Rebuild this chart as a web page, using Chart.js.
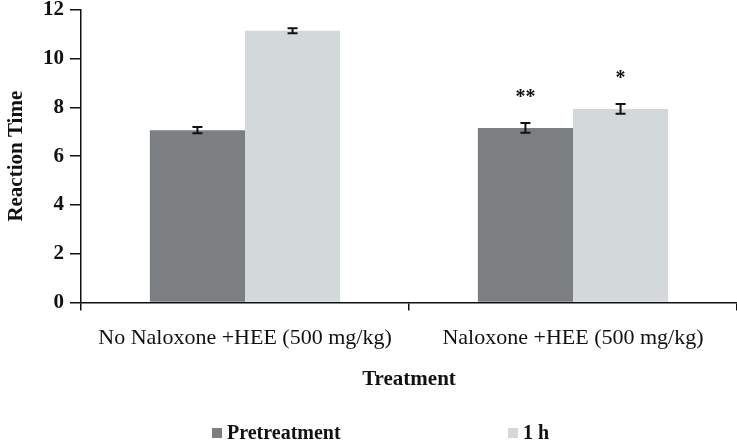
<!DOCTYPE html>
<html>
<head>
<meta charset="utf-8">
<script src="https://cdn.jsdelivr.net/npm/chart.js@4"></script>
<style>
  html, body { margin: 0; padding: 0; background: #fff; }
  #wrap { width: 737px; height: 446px; }
</style>
</head>
<body>
<div id="wrap"><canvas id="chart"></canvas></div>
<script>
const categories = ['No Naloxone +HEE (500 mg/kg)', 'Naloxone +HEE (500 mg/kg)'];
const seriesNames = ['Pretreatment', '1 h'];
const pretreatment = [7.07, 7.16];
const oneHour = [11.15, 7.94];
const pretreatmentErr = [0.13, 0.2];
const oneHourErr = [0.1, 0.2];
const pretreatmentMarks = ['', '**'];
const oneHourMarks = ['', '*'];
const yMax = 12;
const yStep = 2;

const errors = [pretreatmentErr, oneHourErr];
const marks = [pretreatmentMarks, oneHourMarks];
const serif = '"Liberation Serif", "Times New Roman", serif';

// error bars + significance stars, placed through the chart's scales
const errorBars = {
  id: 'errorBars',
  afterDatasetsDraw(chart) {
    const { ctx } = chart;
    const y = chart.scales.y;
    ctx.save();
    chart.data.datasets.forEach((ds, di) => {
      const meta = chart.getDatasetMeta(di);
      meta.data.forEach((bar, i) => {
        const v = ds.data[i];
        const e = errors[di][i];
        const top = y.getPixelForValue(v + e);
        const bot = y.getPixelForValue(v - e);
        ctx.strokeStyle = '#111';
        ctx.lineWidth = 2;
        ctx.beginPath();
        ctx.moveTo(bar.x, top); ctx.lineTo(bar.x, bot);
        ctx.moveTo(bar.x - 5, top); ctx.lineTo(bar.x + 5, top);
        ctx.moveTo(bar.x - 5, bot); ctx.lineTo(bar.x + 5, bot);
        ctx.stroke();
        const m = marks[di][i];
        if (m) {
          ctx.fillStyle = '#111';
          ctx.font = 'bold 20px ' + serif;
          ctx.textAlign = 'center';
          ctx.textBaseline = 'middle';
          ctx.fillText(m, bar.x, top - 25);
        }
      });
    });
    ctx.restore();
  }
};

// legend drawn by hand: the built-in one spreads items vertically too
const wideLegend = {
  id: 'wideLegend',
  afterDraw(chart) {
    const { ctx } = chart;
    const starts = [212, 508];
    const cy = 433;
    ctx.save();
    ctx.font = 'bold 20px ' + serif;
    ctx.textBaseline = 'middle';
    ctx.textAlign = 'left';
    chart.data.datasets.forEach((ds, i) => {
      ctx.fillStyle = ds.backgroundColor;
      ctx.fillRect(starts[i], cy - 5, 10, 10);
      ctx.fillStyle = '#111';
      ctx.fillText(ds.label, starts[i] + 15, cy + 1);
    });
    ctx.restore();
  }
};

new Chart(document.getElementById('chart'), {
  type: 'bar',
  data: {
    labels: categories,
    datasets: [
      { label: seriesNames[0], data: pretreatment, backgroundColor: '#7b7f81' },
      { label: seriesNames[1], data: oneHour, backgroundColor: '#d3d8db' }
    ]
  },
  options: {
    responsive: true,
    maintainAspectRatio: false,
    animation: false,
    devicePixelRatio: 1,
    layout: { padding: { top: 0, right: 0, bottom: 54, left: 0 } },
    datasets: { bar: { barPercentage: 1, categoryPercentage: 0.58 } },
    plugins: {
      legend: { display: false },
      tooltip: { enabled: false }
    },
    scales: {
      x: {
        offset: true,
        grid: { display: true, drawOnChartArea: false, drawTicks: true, tickLength: 8, color: '#111', lineWidth: 1.5 },
        border: { display: true, color: '#111', width: 1.5 },
        ticks: { color: '#111', padding: 15, font: { family: serif, size: 22 } },
        title: { display: true, text: 'Treatment', color: '#111', padding: { top: 0, bottom: 0 }, font: { family: serif, size: 21, weight: 'bold' } }
      },
      y: {
        min: 0,
        max: yMax,
        afterFit(scale) { scale.width = 81; scale.paddingTop = 10; },
        grid: { display: true, drawOnChartArea: false, drawTicks: true, tickLength: 11, color: '#111', lineWidth: 1.5 },
        border: { display: true, color: '#111', width: 1.5 },
        ticks: { stepSize: yStep, autoSkip: false, color: '#111', padding: 6, font: { family: serif, size: 21, weight: 'bold' } },
        title: { display: true, text: 'Reaction Time', color: '#111', padding: { top: 4, bottom: 0 }, font: { family: serif, size: 21, weight: 'bold' } }
      }
    }
  },
  plugins: [errorBars, wideLegend]
});
</script>
</body>
</html>
